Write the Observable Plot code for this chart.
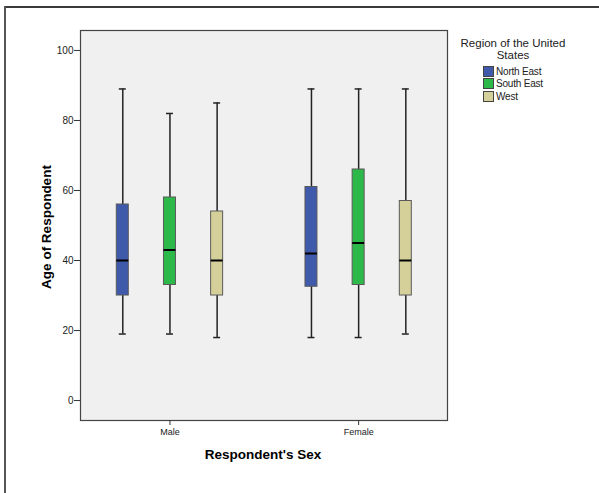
<!DOCTYPE html>
<html>
<head>
<meta charset="utf-8">
<script src="https://cdn.jsdelivr.net/npm/d3@7"></script>
<script src="https://cdn.jsdelivr.net/npm/@observablehq/plot@0.6"></script>
<style>
  html, body { margin: 0; padding: 0; background: #fff; }
  #wrap { position: relative; width: 599px; height: 493px; overflow: hidden; font-family: "Liberation Sans", Arial, sans-serif; }
  #topline { position: absolute; left: 4px; top: 6px; width: 595px; height: 2px; background: #3a3a3a; }
  #leftline { position: absolute; left: 4px; top: 6px; width: 2px; height: 487px; background: #555; }
  #chart { position: absolute; left: 0; top: 0; }
  #ylabel { position: absolute; left: 46px; top: 227px; transform: translate(-50%, -50%) rotate(-90deg); font-weight: bold; font-size: 13.5px; white-space: nowrap; color: #000; }
  #xlabel { position: absolute; left: 263px; top: 454px; transform: translate(-50%, -50%); font-weight: bold; font-size: 13.5px; white-space: nowrap; color: #000; }
  #legend { position: absolute; left: 450px; top: 37px; width: 126px; font-size: 11.5px; color: #222; }
  #legend .title { text-align: center; line-height: 12px; }
  #legend .items { margin-left: 33px; margin-top: 4px; }
  #legend .item { display: flex; align-items: center; height: 12.5px; font-size: 10px; letter-spacing: -0.2px; }
  #legend .sw { width: 9px; height: 9px; border: 1px solid #444; margin-right: 2px; box-sizing: content-box; }
</style>
</head>
<body>
<div id="wrap">
  <div id="topline"></div>
  <div id="leftline"></div>
  <div id="chart"></div>
  <div id="ylabel">Age of Respondent</div>
  <div id="xlabel">Respondent's Sex</div>
  <div id="legend"></div>
</div>
<script>
const sexes = ["Male", "Female"];
const regions = ["North East", "South East", "West"];
const whiskerLow  = [[19, 19, 18], [18, 18, 19]];
const q1          = [[30, 33, 30], [32.5, 33, 30]];
const median      = [[40, 43, 40], [42, 45, 40]];
const q3          = [[56, 58, 54], [61, 66, 57]];
const whiskerHigh = [[89, 82, 85], [89, 89, 89]];
const yTicks = [0, 20, 40, 60, 80, 100];
const regionColors = ["#3f59ab", "#2db84a", "#d5d09a"];
const legendTitle = "Region of the United States";

const rows = [];
sexes.forEach((s, i) => regions.forEach((r, j) => rows.push({
  sex: s, region: r, key: s + "|" + r,
  lo: whiskerLow[i][j], q1: q1[i][j], med: median[i][j], q3: q3[i][j], hi: whiskerHigh[i][j]
})));
const xDomain = [
  ...regions.map(r => sexes[0] + "|" + r),
  "gap",
  ...regions.map(r => sexes[1] + "|" + r)
];
const xTicks = sexes.map(s => s + "|" + regions[1]);

const chart = Plot.plot({
  width: 599,
  height: 493,
  marginLeft: 80,
  marginRight: 152,
  marginTop: 30,
  marginBottom: 73,
  style: { fontFamily: "Liberation Sans, Arial, sans-serif", background: "transparent", color: "#222" },
  x: { type: "band", domain: xDomain, range: [116.3, 411.3], paddingInner: 0.746, paddingOuter: 0, round: false, axis: null },
  y: { domain: [-5.7, 105.7], axis: null },
  color: { domain: regions, range: regionColors },
  marks: [
    Plot.frame({ fill: "#f0f0f0", stroke: null }),
    Plot.ruleX(rows, { x: "key", y1: "lo", y2: "hi", stroke: "#222", strokeWidth: 1.5 }),
    Plot.tickY(rows, { x: "key", y: "hi", stroke: "#222", strokeWidth: 1.5, insetLeft: 2.5, insetRight: 2.5 }),
    Plot.tickY(rows, { x: "key", y: "lo", stroke: "#222", strokeWidth: 1.5, insetLeft: 2.5, insetRight: 2.5 }),
    Plot.barY(rows, { x: "key", y1: "q1", y2: "q3", fill: "region", stroke: "#5a5a5a", strokeWidth: 1 }),
    Plot.tickY(rows, { x: "key", y: "med", stroke: "#000", strokeWidth: 2 }),
    Plot.frame({ stroke: "#444", strokeWidth: 1.2 }),
    Plot.axisY({ ticks: yTicks, tickSize: 6, tickPadding: 1, fontSize: 10, label: null, stroke: "#333" }),
    Plot.axisX({ ticks: xTicks, tickFormat: d => d.split("|")[0], tickSize: 5, tickPadding: 3, fontSize: 9, label: null, stroke: "#333" })
  ]
});
document.getElementById("chart").appendChild(chart);

const lg = document.getElementById("legend");
const words = legendTitle.split(" ");
lg.innerHTML = `<div class="title">${words.slice(0, 4).join(" ")}<br>${words.slice(4).join(" ")}</div>` +
  `<div class="items">` + regions.map((r, i) =>
    `<div class="item"><span class="sw" style="background:${regionColors[i]}"></span>${r}</div>`).join("") + `</div>`;
</script>
</body>
</html>
